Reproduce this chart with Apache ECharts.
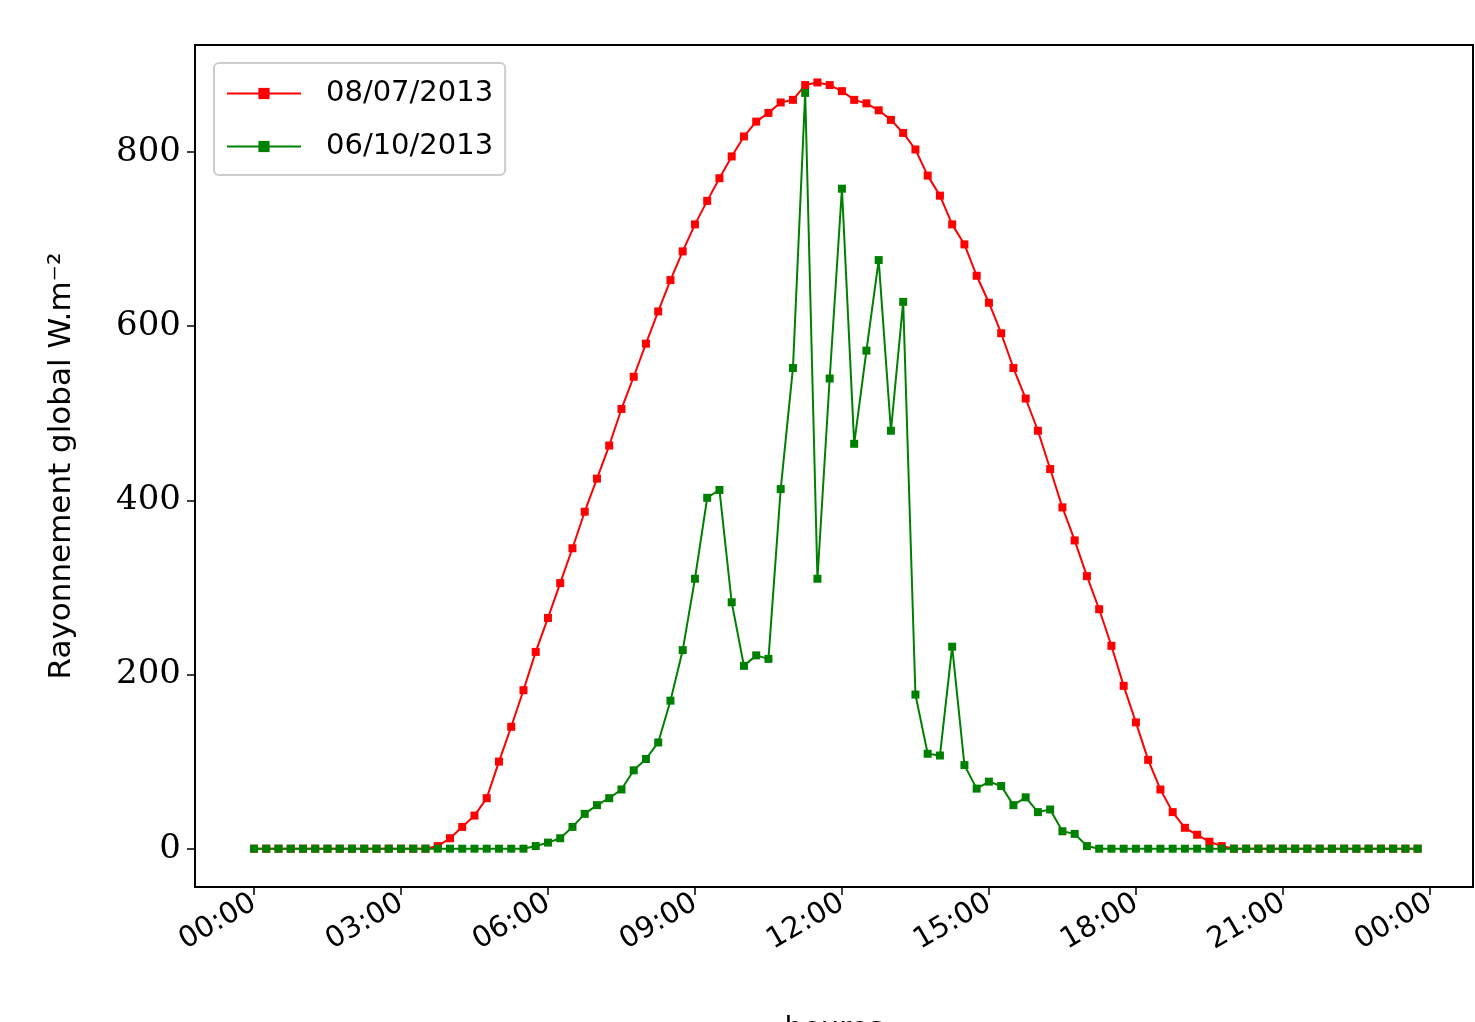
<!DOCTYPE html>
<html>
<head>
<meta charset="UTF-8">
<script src="https://cdn.jsdelivr.net/npm/echarts@6/dist/echarts.min.js"></script>
<style>body{margin:0;background:#fff}</style>
</head>
<body>
<div id="main" style="width:1475px;height:1022px;"></div>
<script>
// 15-minute samples, 96 per day
var redStart = 14;
var redVals = [0,3,12,25,38,58,100,140,182,226,265,305,345,387,425,463,505,542,580,617,653,686,717,744,770,795,818,835,845,857,860,877,880,877,870,860,856,848,837,822,803,773,750,717,694,658,627,592,552,517,480,436,392,354,313,275,233,187,145,102,68,42,24,16,8,3];
var greenStart = 22;
var greenVals = [0,3,7,12,25,40,50,58,68,90,103,122,170,228,310,403,412,283,210,222,218,413,552,868,310,540,758,465,572,676,480,628,177,109,107,232,96,69,77,72,50,59,42,45,20,17,3];
var xTicks = [0,3,6,9,12,15,18,21,24];
var yTicks = [0,200,400,600,800];

function build(start, vals) {
  var out = [];
  for (var i = 0; i < 96; i++) {
    var v = (i >= start && i < start + vals.length) ? vals[i - start] : 0;
    out.push([i * 0.25, v]);
  }
  return out;
}

var chart = echarts.init(document.getElementById('main'));
chart.setOption({
  animation: false,
  grid: {left: 195, top: 45, right: 2, bottom: 135, show: true, borderColor: '#000', borderWidth: 2,
         containLabel: false, outerBoundsMode: 'none'},
  legend: {
    left: 214, top: 63, orient: 'vertical', itemGap: 24, itemWidth: 74, itemHeight: 14,
    padding: [16, 12, 14, 12], borderColor: '#ccc', borderWidth: 2, borderRadius: 5,
    textStyle: {fontFamily: 'DejaVu Sans', fontSize: 29, color: '#000', padding: [0, 0, 0, 20]}
  },
  xAxis: {
    type: 'value', min: -1.204, max: 24.88,
    name: 'heures', nameLocation: 'middle', nameGap: 128,
    nameTextStyle: {fontFamily: 'DejaVu Sans', fontSize: 29, color: '#000'},
    splitLine: {show: false},
    axisLine: {onZero: false, lineStyle: {color: '#000', width: 2}},
    axisTick: {customValues: xTicks, length: 8, lineStyle: {color: '#000', width: 1.5}},
    axisLabel: {
      customValues: xTicks, rotate: 30, color: '#000', fontSize: 29, fontFamily: 'DejaVu Sans', margin: 14,
      formatter: function (v) { var h = v % 24; return (h < 10 ? '0' : '') + h + ':00'; }
    }
  },
  yAxis: {
    type: 'value', min: -44, max: 923,
    name: 'Rayonnement global W.m\u207B\u00B2', nameLocation: 'middle', nameGap: 118,
    nameTextStyle: {fontFamily: 'DejaVu Sans', fontSize: 31, color: '#000'},
    splitLine: {show: false},
    axisLine: {show: true, onZero: false, lineStyle: {color: '#000', width: 2}},
    axisTick: {show: true, customValues: yTicks, length: 8, lineStyle: {color: '#000', width: 1.5}},
    axisLabel: {customValues: yTicks, color: '#000', fontSize: 34, fontFamily: 'DejaVu Serif', margin: 14}
  },
  series: [
    {name: '08/07/2013', type: 'line', data: build(redStart, redVals), color: 'red',
     symbol: 'rect', symbolSize: 8, lineStyle: {width: 2}, itemStyle: {color: 'red'}},
    {name: '06/10/2013', type: 'line', data: build(greenStart, greenVals), color: 'green',
     symbol: 'rect', symbolSize: 8, lineStyle: {width: 2}, itemStyle: {color: 'green'}}
  ]
});
</script>
</body>
</html>
